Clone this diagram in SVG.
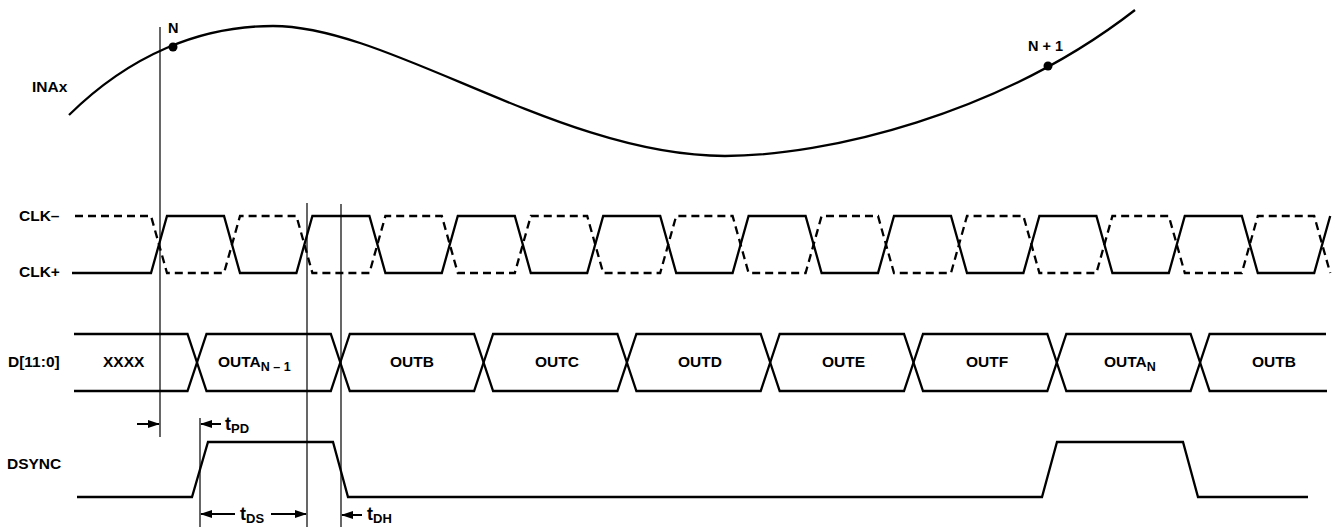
<svg xmlns="http://www.w3.org/2000/svg" width="1335" height="527" viewBox="0 0 1335 527">
<style>
.sig{fill:none;stroke:#000;stroke-width:2.3;stroke-linejoin:miter}
.dash{fill:none;stroke:#000;stroke-width:2.3;stroke-dasharray:8 5}
.thin{fill:none;stroke:#000;stroke-width:1.2}
.arr{fill:none;stroke:#000;stroke-width:2;marker-end:url(#ah)}
.lbl{font-family:"Liberation Sans",Arial,sans-serif;font-weight:bold;font-size:15.5px;fill:#000}
.nl{font-family:"Liberation Sans",Arial,sans-serif;font-weight:bold;font-size:14.5px;fill:#000}
.bus{font-family:"Liberation Sans",Arial,sans-serif;font-weight:bold;font-size:15.5px;fill:#000}
.sub{font-size:12.5px}
.tm{font-family:"Liberation Sans",Arial,sans-serif;font-weight:bold;font-size:18px;fill:#000}
.tsub{font-size:13px}
</style>
<defs>
<marker id="ah" markerUnits="userSpaceOnUse" markerWidth="12" markerHeight="8" refX="11" refY="4" orient="auto">
<path d="M0,0 L12,4 L0,8 z" fill="#000"/>
</marker>
</defs>
<rect width="1335" height="527" fill="#fff"/>

<g id="inax">
<path class="sig" d="M69,115 C130,55 200,26 273,26 C390,26 560,156 725,156 C825,156 1000,115 1135,10"/>
<circle cx="173" cy="47" r="4.5" fill="#000"/>
<circle cx="1048" cy="66" r="4.5" fill="#000"/>
<text class="nl" x="168" y="33">N</text>
<text class="nl" x="1028" y="51">N + 1</text>
<text class="lbl" x="32" y="92">INAx</text>
</g>

<g id="clk">
<text class="lbl" x="19" y="221">CLK–</text>
<text class="lbl" x="19" y="277">CLK+</text>
<path class="sig" d="M72,273 L151,273 L167,216 L224,216 L240,273 L296.4,273 L312.4,216 L369.4,216 L385.4,273 L441.8,273 L457.8,216 L514.8,216 L530.8,273 L587.2,273 L603.2,216 L660.2,216 L676.2,273 L732.6,273 L748.6,216 L805.6,216 L821.6,273 L878,273 L894,216 L951,216 L967,273 L1023.4,273 L1039.4,216 L1096.4,216 L1112.4,273 L1168.8,273 L1184.8,216 L1241.8,216 L1257.8,273 L1314.2,273 L1330.2,216"/>
<path class="dash" d="M75,216 L151,216 L167,273 L224,273 L240,216 L296.4,216 L312.4,273 L369.4,273 L385.4,216 L441.8,216 L457.8,273 L514.8,273 L530.8,216 L587.2,216 L603.2,273 L660.2,273 L676.2,216 L732.6,216 L748.6,273 L805.6,273 L821.6,216 L878,216 L894,273 L951,273 L967,216 L1023.4,216 L1039.4,273 L1096.4,273 L1112.4,216 L1168.8,216 L1184.8,273 L1241.8,273 L1257.8,216 L1314.2,216 L1330.2,273"/>
</g>

<g id="dbus">
<text class="lbl" x="8" y="367">D[11:0]</text>
<path class="sig" d="M74,334 L187.5,334 L197,362.5 L187.5,391 L74,391"/>
<path class="sig" d="M197,362.5 L206.5,334 L330.8,334 L340.3,362.5 L330.8,391 L206.5,391 Z"/>
<path class="sig" d="M340.3,362.5 L349.8,334 L474.1,334 L483.6,362.5 L474.1,391 L349.8,391 Z"/>
<path class="sig" d="M483.6,362.5 L493.1,334 L617.4,334 L626.9,362.5 L617.4,391 L493.1,391 Z"/>
<path class="sig" d="M626.9,362.5 L636.4,334 L760.7,334 L770.2,362.5 L760.7,391 L636.4,391 Z"/>
<path class="sig" d="M770.2,362.5 L779.7,334 L904,334 L913.5,362.5 L904,391 L779.7,391 Z"/>
<path class="sig" d="M913.5,362.5 L923,334 L1047.3,334 L1056.8,362.5 L1047.3,391 L923,391 Z"/>
<path class="sig" d="M1056.8,362.5 L1066.3,334 L1190.6,334 L1200.1,362.5 L1190.6,391 L1066.3,391 Z"/>
<path class="sig" d="M1326,334 L1209.6,334 L1200.1,362.5 L1209.6,391 L1327,391"/>
<text class="bus" x="103" y="367">XXXX</text>
<text class="bus" x="218" y="367">OUTA<tspan class="sub" dy="4">N – 1</tspan></text>
<text class="bus" x="390" y="367">OUTB</text>
<text class="bus" x="535" y="367">OUTC</text>
<text class="bus" x="678" y="367">OUTD</text>
<text class="bus" x="822" y="367">OUTE</text>
<text class="bus" x="966" y="367">OUTF</text>
<text class="bus" x="1104" y="367">OUTA<tspan class="sub" dy="4">N</tspan></text>
<text class="bus" x="1252" y="367">OUTB</text>
</g>

<g id="dsync">
<text class="lbl" x="7" y="469">DSYNC</text>
<path class="sig" d="M77,497 L192,497 L208,442 L333,442 L348,497 L1042,497 L1057,442 L1183,442 L1198,497 L1308,497"/>
</g>

<g id="connectors">
<line class="thin" x1="160" y1="27" x2="160" y2="437"/>
<line class="thin" x1="200" y1="418" x2="200" y2="527"/>
<line class="thin" x1="307" y1="203" x2="307" y2="527"/>
<line class="thin" x1="341" y1="204" x2="341" y2="527"/>
<line class="arr" x1="137" y1="424" x2="159" y2="424"/>
<line class="arr" x1="221" y1="424" x2="201" y2="424"/>
<line class="arr" x1="235" y1="514" x2="201" y2="514"/>
<line class="arr" x1="271" y1="514" x2="306" y2="514"/>
<line class="arr" x1="362" y1="515" x2="342" y2="515"/>
</g>

<g id="timing-labels">
<text class="tm" x="225" y="430">t<tspan class="tsub" dy="3">PD</tspan></text>
<text class="tm" x="240" y="520">t<tspan class="tsub" dy="3">DS</tspan></text>
<text class="tm" x="367" y="520">t<tspan class="tsub" dy="3">DH</tspan></text>
</g>
</svg>
